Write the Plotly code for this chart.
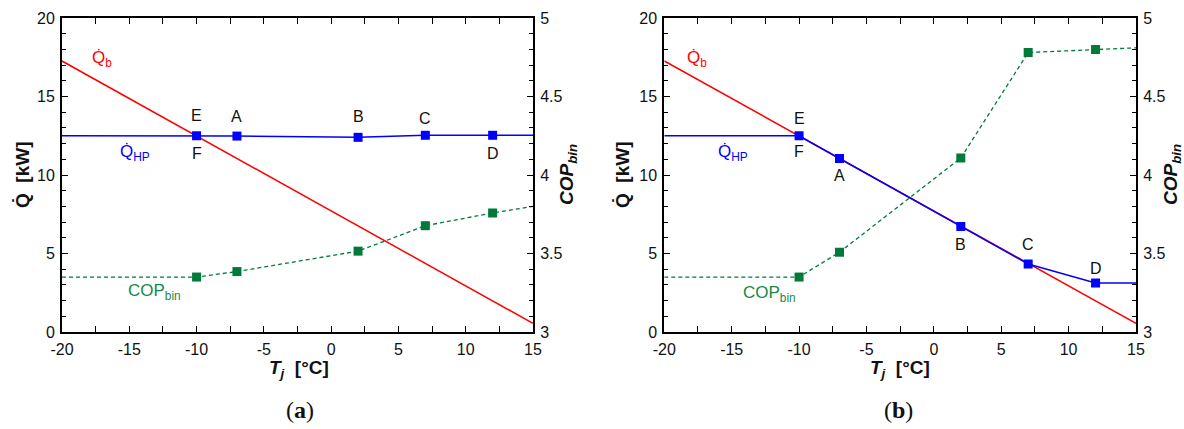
import plotly.graph_objects as go

# ---------------- data ----------------
T_bin = [-20, -10, -7, 2, 7, 12, 15]
Qb_T = [-20, 15]
Qb = [17.26, 0.55]

QHP_a = [12.5, 12.5, 12.48, 12.4, 12.53, 12.53, 12.53]
COP_a = [3.35, 3.35, 3.385, 3.515, 3.677, 3.758, 3.80]

QHP_b = [12.5, 12.5, 11.05, 6.72, 4.33, 3.12, 3.12]
COP_b = [3.35, 3.35, 3.508, 4.108, 4.78, 4.80, 4.81]

marker_sizes = [0, 9, 9, 9, 9, 9, 0]

x_tickvals = [-20, -15, -10, -5, 0, 5, 10, 15]
x_ticktext = ["-20", "-15", "-10", "-5", "0", "5", "10", "15"]
q_tickvals = [0, 5, 10, 15, 20]
q_ticktext = ["0", "5", "10", "15", "20"]
cop_tickvals = [3, 3.5, 4, 4.5, 5]
cop_ticktext = ["3", "3.5", "4", "4.5", "5"]

# point labels: (text, T, Q)
labels_a = [("E", -10, 13.8), ("A", -7, 13.75), ("F", -10, 11.4),
            ("B", 2, 13.75), ("C", 7, 13.6), ("D", 12, 11.4)]
labels_b = [("E", -10, 13.6), ("F", -10, 11.5), ("A", -7, 9.95),
            ("B", 2, 5.55), ("C", 7, 5.6), ("D", 12, 4.05)]

RED = "#ff0000"
BLUE = "#0000ff"
GREEN = "#007a3a"
GREEN_TXT = "#138a48"
FONT = "Liberation Sans, Arial, sans-serif"

fig = go.Figure()


def add_panel(xa, ya, ya2, qhp, cop):
    fig.add_trace(go.Scatter(
        x=T_bin, y=cop, xaxis=xa, yaxis=ya2, mode="lines+markers",
        line=dict(color=GREEN, width=1.3, dash="4px,3px"),
        marker=dict(symbol="square", size=marker_sizes, color=GREEN, opacity=1,
                    line=dict(width=0)),
        showlegend=False, hoverinfo="skip"))
    fig.add_trace(go.Scatter(
        x=Qb_T, y=Qb, xaxis=xa, yaxis=ya, mode="lines",
        line=dict(color=RED, width=1.5), showlegend=False, hoverinfo="skip"))
    fig.add_trace(go.Scatter(
        x=T_bin, y=qhp, xaxis=xa, yaxis=ya, mode="lines+markers",
        line=dict(color=BLUE, width=1.5),
        marker=dict(symbol="square", size=marker_sizes, color=BLUE, opacity=1,
                    line=dict(width=0)),
        showlegend=False, hoverinfo="skip"))


add_panel("x", "y", "y2", QHP_a, COP_a)
add_panel("x2", "y3", "y4", QHP_b, COP_b)

W, H = 1184, 429
ydom = [(H - 332) / H, (H - 18) / H]
xdom_a = [62 / W, 533 / W]
xdom_b = [664.3 / W, 1136 / W]

tickfont = dict(family=FONT, size=16, color="#111111")
common = dict(showline=True, linecolor="black", linewidth=2, ticks="inside",
              ticklen=6, tickwidth=1, tickcolor="black", showgrid=False,
              zeroline=False, tickfont=tickfont, automargin=False, ticklabelstandoff=2)


def xaxis(dom, anchor):
    return dict(domain=dom, anchor=anchor, range=[-20, 15], tickvals=x_tickvals,
                ticktext=x_ticktext, mirror="allticks",
                minor=dict(tickvals=[-17.5, -12.5, -7.5, -2.5, 2.5, 7.5, 12.5],
                           ticks="inside", ticklen=4, tickcolor="black"),
                **common)


def qaxis(anchor):
    return dict(domain=ydom, anchor=anchor, range=[0, 20], tickvals=q_tickvals,
                ticktext=q_ticktext, minor=dict(dtick=1, ticks="inside", ticklen=4, tickcolor="black"),
                **common)


def copaxis(anchor, overlay):
    return dict(anchor=anchor, overlaying=overlay, side="right", range=[3, 5],
                tickvals=cop_tickvals, ticktext=cop_ticktext,
                minor=dict(dtick=0.1, ticks="inside", ticklen=4, tickcolor="black"),
                **common)


ann = []


def txt(x, y, text, xref, yref, size=15, color="#111111", angle=0, family=FONT):
    ann.append(dict(x=x, y=y, xref=xref, yref=yref, text=text, showarrow=False,
                    font=dict(family=family, size=size, color=color), textangle=angle,
                    xanchor="center", yanchor="middle"))


for (t, x, y) in labels_a:
    txt(x, y, t, "x", "y", 16)
for (t, x, y) in labels_b:
    txt(x, y, t, "x2", "y3", 16)

# series labels
txt(-17.05, 17.4, "Q\u0307<sub>b</sub>", "x", "y", 17, RED)
txt(-14.6, 11.4, "Q\u0307<sub>HP</sub>", "x", "y", 17, BLUE)
txt(-13.1, 2.55, "COP<sub>bin</sub>", "x", "y", 17, GREEN_TXT)
txt(-17.6, 17.4, "Q\u0307<sub>b</sub>", "x2", "y3", 17, RED)
txt(-14.9, 11.4, "Q\u0307<sub>HP</sub>", "x2", "y3", 17, BLUE)
txt(-12.2, 2.4, "COP<sub>bin</sub>", "x2", "y3", 17, GREEN_TXT)

# axis titles
ymid = (H - 175) / H
txt(23 / W, ymid, "<b>Q\u0307  [kW]</b>", "paper", "paper", 19, "#111111", -90)
txt(568 / W, ymid, "<b><i>COP<sub>bin</sub></i></b>", "paper", "paper", 19, "#111111", -90)
txt(623 / W, ymid, "<b>Q\u0307  [kW]</b>", "paper", "paper", 19, "#111111", -90)
txt(1172 / W, ymid, "<b><i>COP<sub>bin</sub></i></b>", "paper", "paper", 19, "#111111", -90)
txt(299 / W, (H - 369) / H, "<b><i>T<sub>j</sub></i>  [°C]</b>", "paper", "paper", 19)
txt(900 / W, (H - 369) / H, "<b><i>T<sub>j</sub></i>  [°C]</b>", "paper", "paper", 19)

# panel labels
SERIF = "Liberation Serif, DejaVu Serif, serif"
txt(300 / W, (H - 410) / H, "(<b>a</b>)", "paper", "paper", 24, "#111111", 0, SERIF)
txt(898 / W, (H - 410) / H, "(<b>b</b>)", "paper", "paper", 24, "#111111", 0, SERIF)

fig.update_layout(
    width=W, height=H, template="none",
    margin=dict(l=0, r=0, t=0, b=0),
    paper_bgcolor="white", plot_bgcolor="white",
    xaxis=xaxis(xdom_a, "y"), yaxis=qaxis("x"), yaxis2=copaxis("x", "y"),
    xaxis2=xaxis(xdom_b, "y3"), yaxis3=qaxis("x2"), yaxis4=copaxis("x2", "y3"),
    annotations=ann, showlegend=False,
)

fig.write_html("out.html", config={"displayModeBar": False},
               post_script="document.body.style.margin='0';document.body.style.overflow='hidden';")
